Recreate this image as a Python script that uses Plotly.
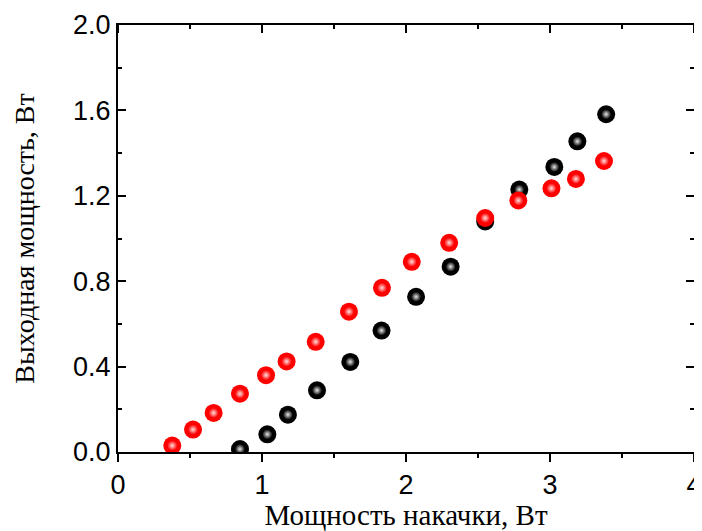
import plotly.graph_objects as go

# Pump power (W) and output power (W)
black_x = [0.847, 1.037, 1.18, 1.382, 1.613, 1.83, 2.07, 2.31, 2.55, 2.787, 3.03, 3.19, 3.39]
black_y = [0.014, 0.083, 0.175, 0.289, 0.422, 0.569, 0.727, 0.868, 1.08, 1.229, 1.335, 1.455, 1.582]

red_x = [0.377, 0.521, 0.664, 0.847, 1.028, 1.171, 1.373, 1.604, 1.833, 2.04, 2.30, 2.55, 2.78, 3.01, 3.18, 3.375]
red_y = [0.03, 0.105, 0.183, 0.273, 0.36, 0.424, 0.516, 0.657, 0.769, 0.891, 0.98, 1.096, 1.178, 1.235, 1.279, 1.363]

x_ticks = [0, 1, 2, 3, 4]
y_ticks = [0.0, 0.4, 0.8, 1.2, 1.6, 2.0]
y_tick_text = ["0.0", "0.4", "0.8", "1.2", "1.6", "2.0"]

x_title = "Мощность накачки, Вт"
y_title = "Выходная мощность, Вт"

fig = go.Figure()

def sphere(x, y, color, hl):
    base = go.Scatter(
        x=x, y=y, mode="markers", showlegend=False,
        marker=dict(size=18, color=color, line=dict(width=0)),
    )
    shine = go.Scatter(
        x=x, y=y, mode="markers", showlegend=False, hoverinfo="skip",
        marker=dict(size=10, color=color, line=dict(width=0),
                    gradient=dict(type="radial", color=hl)),
    )
    return [base, shine]

for t in sphere(black_x, black_y, "black", "#e8e8e8"):
    fig.add_trace(t)
for t in sphere(red_x, red_y, "#ff0000", "#ffe0e0"):
    fig.add_trace(t)

# inward-pointing ticks along the top frame (major and half-step minor)
x_minor = [(a + b) / 2 for a, b in zip(x_ticks, x_ticks[1:])]
for vals, ln in ((x_ticks, 8), (x_minor, 4)):
    for v in vals:
        fig.add_shape(type="line", xref="x", yref="y domain", ysizemode="pixel", yanchor=1,
                      x0=v, x1=v, y0=0, y1=-ln, line=dict(color="black", width=2))

common = dict(linecolor="black", linewidth=2, tickcolor="black", tickwidth=2,
              showgrid=False, zeroline=False, automargin=False, ticklabeloverflow="allow")

# page body has an 8px margin: figure is shifted 8px right/down
fig.update_layout(
    width=694, height=523,
    margin=dict(l=110, r=8, t=17, b=79, autoexpand=False),
    paper_bgcolor="white", plot_bgcolor="white",
    xaxis=dict(range=[0, 4], tickvals=x_ticks, ticks="outside", ticklen=8,
               showline=True, mirror=True,
               minor=dict(dtick=0.5, ticks="outside", ticklen=4, tickcolor="black", tickwidth=2),
               tickfont=dict(family="Liberation Sans", size=27, color="black"),
               title=dict(text=x_title, font=dict(family="Liberation Serif", size=29, color="black"),
                          standoff=12),
               **common),
    yaxis=dict(range=[0, 2.0], tickvals=y_ticks, ticktext=y_tick_text, ticks="inside", ticklen=8,
               showline=True, mirror="ticks",
               minor=dict(dtick=0.2, ticks="inside", ticklen=4, tickcolor="black", tickwidth=2),
               tickfont=dict(family="Liberation Sans", size=27, color="black"),
               title=dict(text=y_title, font=dict(family="Liberation Serif", size=28, color="black"),
                          standoff=30),
               **common),
)

fig.write_html("out.html")
